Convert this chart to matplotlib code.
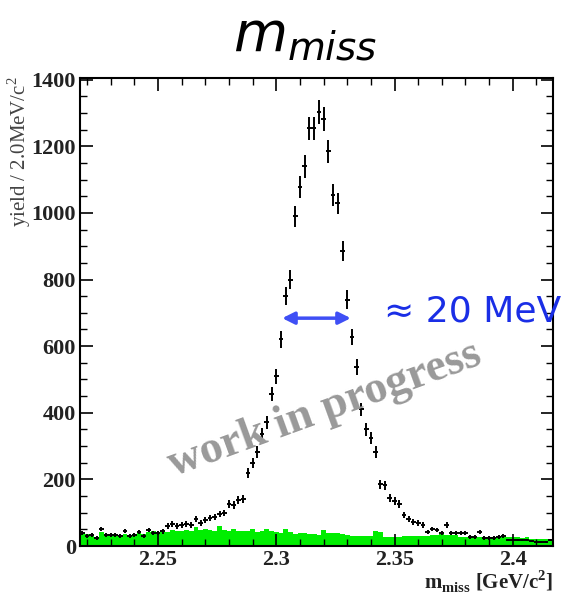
import numpy as np
import matplotlib
matplotlib.use("Agg")
import matplotlib.pyplot as plt
from matplotlib.ticker import MultipleLocator

# ---- data ----
x_min = 2.217
bin_width = 0.002  # GeV
counts = [39, 30, 33, 24, 51, 32, 32, 32, 30, 45,
          30, 33, 42, 30, 48, 40, 40, 44, 60, 66,
          60, 63, 66, 63, 81, 69, 78, 84, 87, 96,
          99, 126, 123, 138, 141, 219, 249, 282, 336, 372,
          456, 510, 620, 750, 800, 990, 1077, 1140, 1254, 1254,
          1302, 1281, 1185, 1053, 1029, 885, 740, 627, 537, 410,
          350, 324, 282, 186, 183, 144, 135, 126, 93, 81,
          72, 69, 63, 42, 51, 48, 39, 63, 39, 39,
          39, 39, 27, 27, 42, 24, 24, 24, 27, 30,
          18, 18, 18, 18, 18, 15, 12, 12, 12, 18]
background = [38, 36, 30, 28, 42, 33, 35, 33, 32, 36,
              34, 36, 40, 35, 42, 44, 40, 45, 43, 47,
              44, 46, 48, 45, 57, 48, 50, 47, 46, 59,
              48, 46, 50, 44, 45, 46, 51, 42, 45, 51,
              44, 41, 38, 51, 42, 36, 38, 40, 36, 35,
              33, 48, 40, 38, 39, 36, 32, 30, 30, 31,
              30, 30, 45, 42, 28, 27, 26, 28, 30, 30,
              31, 30, 29, 30, 32, 34, 35, 33, 34, 32,
              28, 27, 28, 26, 27, 28, 27, 26, 27, 26,
              28, 27, 26, 25, 27, 22, 21, 22, 20, 21]
x_ticks = [2.25, 2.3, 2.35, 2.4]
x_tick_labels = ["2.25", "2.3", "2.35", "2.4"]
y_ticks = [0, 200, 400, 600, 800, 1000, 1200, 1400]
arrow_span = (2.3025, 2.3315)
arrow_y = 684

counts = np.array(counts, dtype=float)
background = np.array(background, dtype=float)
n = len(counts)
edges = x_min + bin_width * np.arange(n + 1)
centers = 0.5 * (edges[:-1] + edges[1:])

fig = plt.figure(figsize=(5.68, 5.96), dpi=100)
ax = fig.add_axes([80 / 568, 50 / 596, 473 / 568, 468 / 596])

# background histogram (green filled)
ax.stairs(background, edges, fill=True, color="#00ee00", linewidth=0, zorder=1)

# data points with errors
ax.errorbar(centers, counts, yerr=np.sqrt(counts), xerr=bin_width / 2,
            fmt="none", ecolor="black", elinewidth=1.4, capsize=0, zorder=3)

ax.set_xlim(edges[0], edges[-1])
ax.set_ylim(0, 1405)

ax.set_xticks(x_ticks)
ax.set_xticklabels(x_tick_labels)
ax.set_yticks(y_ticks)
ax.xaxis.set_minor_locator(MultipleLocator(0.01))
ax.yaxis.set_minor_locator(MultipleLocator(50))

serif = ["Liberation Serif", "DejaVu Serif"]
for lab in ax.get_xticklabels() + ax.get_yticklabels():
    lab.set_family(serif)
    lab.set_fontweight("bold")
    lab.set_fontsize(16)
    lab.set_color("#222222")

ax.tick_params(which="both", direction="in", top=True, right=True, color="black")
ax.tick_params(which="major", length=9, width=1.2, pad=3)
ax.tick_params(which="minor", length=5, width=1.0)
for s in ax.spines.values():
    s.set_linewidth(1.5)

# axis titles
fig.text(553 / 568, 1 - 589 / 596,
         r"m$_{\mathregular{miss}}$ [GeV/c$^{\mathregular{2}}$]",
         ha="right", va="baseline", family=serif, fontweight="bold",
         fontsize=15, color="#222222")
fig.text(19 / 568, 1 - 76 / 596, r"yield / 2.0MeV/c$^{\mathregular{2}}$",
         rotation=90, ha="center", va="top", family=serif, fontsize=15,
         color="#444444")

# title
fig.text(305 / 568, 1 - 35 / 596, r"$m_{miss}$", ha="center", va="center",
         fontsize=40, color="black")

# arrow and width annotation
ax.annotate("", xy=(arrow_span[0], arrow_y), xytext=(arrow_span[1], arrow_y),
            arrowprops=dict(arrowstyle="<|-|>", color="#3f4ff5", lw=2.5,
                            mutation_scale=18, shrinkA=0, shrinkB=0), zorder=5)
fig.text(384 / 568, 1 - 312 / 596, "≈ 20 MeV", ha="left", va="center",
         fontsize=26, color="#1a2ee6", family=["DejaVu Sans"])

# watermark
fig.text(325 / 568, 1 - 410 / 596, "work in progress", rotation=20,
         ha="center", va="center", family=serif, fontweight="bold",
         fontsize=33, color="#999999", zorder=10)

fig.savefig("out.png", dpi=100)
